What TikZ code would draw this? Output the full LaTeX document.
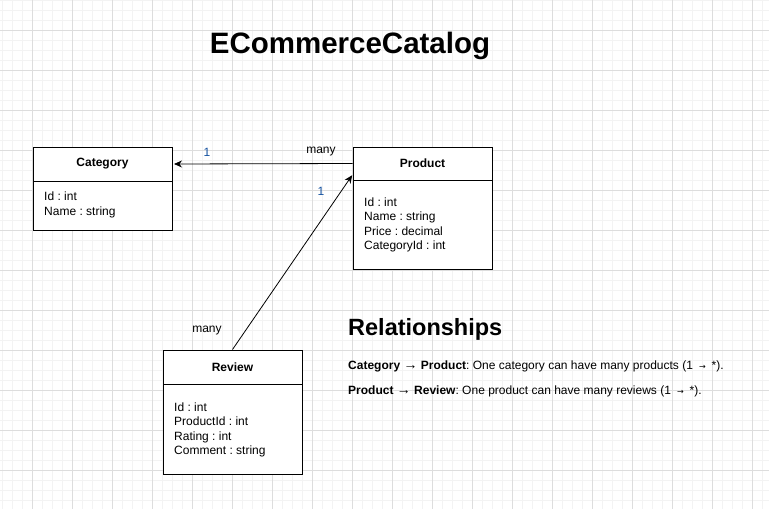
\documentclass[tikz,border=0pt]{standalone}
\usepackage{fontspec}
\setmainfont{Liberation Sans}
\newfontfamily\arrowfont{DejaVu Sans}
\usetikzlibrary{arrows.meta,calc}
\definecolor{gridminor}{HTML}{F3F3F3}
\definecolor{gridmajor}{HTML}{DDDDDD}
\definecolor{mult}{HTML}{1552A0}
\frenchspacing
\newcommand{\smallarrow}{\hspace{6pt}{\arrowfont\fontsize{8}{10}\selectfont →}\hspace{6pt}}
\newcommand{\longarrow}{{\mdseries\fontsize{14}{14}\selectfont →}}
\begin{document}
\begin{tikzpicture}[x=1pt,y=-1pt,
  minorline/.style={draw=gridminor,line width=0.8pt},
  majorline/.style={draw=gridmajor,line width=0.8pt},
  umlhead/.style={draw=black,line width=1pt,fill=white,minimum width=139pt,inner sep=0pt,
    font=\fontsize{12}{14}\selectfont\bfseries},
  umlbody/.style={draw=black,line width=1pt,fill=white,minimum width=139pt,inner sep=0pt},
  attrs/.style={anchor=west,align=left,inner sep=0pt,font=\fontsize{12}{14.4}\selectfont},
  assoc/.style={draw=black,line width=0.8pt,shorten >=1.5pt,-{Stealth[length=8pt,width=7pt]}},
  multone/.style={text=mult,font=\fontsize{12}{14}\selectfont,inner sep=0pt},
  multmany/.style={text=black,font=\fontsize{12}{14}\selectfont,inner sep=0pt},
  relline/.style={anchor=west,inner sep=0pt,font=\fontsize{12}{14}\selectfont}]
\useasboundingbox (0,0) rectangle (769,509);
\fill[white] (0,0) rectangle (769,509);
% background grid
\foreach \x in {2,12,...,762} \draw[minorline] (\x,0) -- (\x,509);
\foreach \y in {0,10,...,500} \draw[minorline] (0,\y) -- (769,\y);
\foreach \x in {32,72,...,752} \draw[majorline] (\x,0) -- (\x,509);
\foreach \y in {30,70,...,510} \draw[majorline] (0,\y) -- (769,\y);

% title
\node[font=\fontsize{29.5}{34}\selectfont\bfseries,inner sep=0pt] (title) at (350,46) {ECommerceCatalog};

% Category class
\node[umlhead,minimum height=34pt] (cath) at (102.5,164) {Category};
\node[umlbody,minimum height=49pt] (catb) at (102.5,205.5) {};
\node[attrs] (cata) at (44,205) {Id : int\\Name : string};

% Product class
\node[umlhead,minimum height=33pt] (prodh) at (422.5,163.5) {Product};
\node[umlbody,minimum height=89pt] (prodb) at (422.5,224.5) {};
\node[attrs] (proda) at (364,225) {Id : int\\Name : string\\Price : decimal\\CategoryId : int};

% Review class
\node[umlhead,minimum height=34pt] (revh) at (232.5,367) {Review};
\node[umlbody,minimum height=90pt] (revb) at (232.5,429) {};
\node[attrs] (reva) at (174,430) {Id : int\\ProductId : int\\Rating : int\\Comment : string};

% associations
\coordinate (prodin) at (353,174);
\draw[assoc] (prodh.west) -- (cath.east);
\draw[assoc] (revh.north) -- (prodin);
\node[multone] (m1) at (207,152) {1};
\node[multmany] (m2) at (321,152) {many};
\node[multone] (m3) at (321,191) {1};
\node[multmany] (m4) at (207,331) {many};

% relationships summary
\node[anchor=west,inner sep=0pt,font=\fontsize{23.5}{28}\selectfont\bfseries] (relh) at (348,329) {Relationships};
\node[relline] (rel1) at (348,366) {\textbf{Category \longarrow{} Product}: One category can have many products (1\smallarrow*).};
\node[relline] (rel2) at (348,391) {\textbf{Product \longarrow{} Review}: One product can have many reviews (1\smallarrow*).};
\end{tikzpicture}
\end{document}
